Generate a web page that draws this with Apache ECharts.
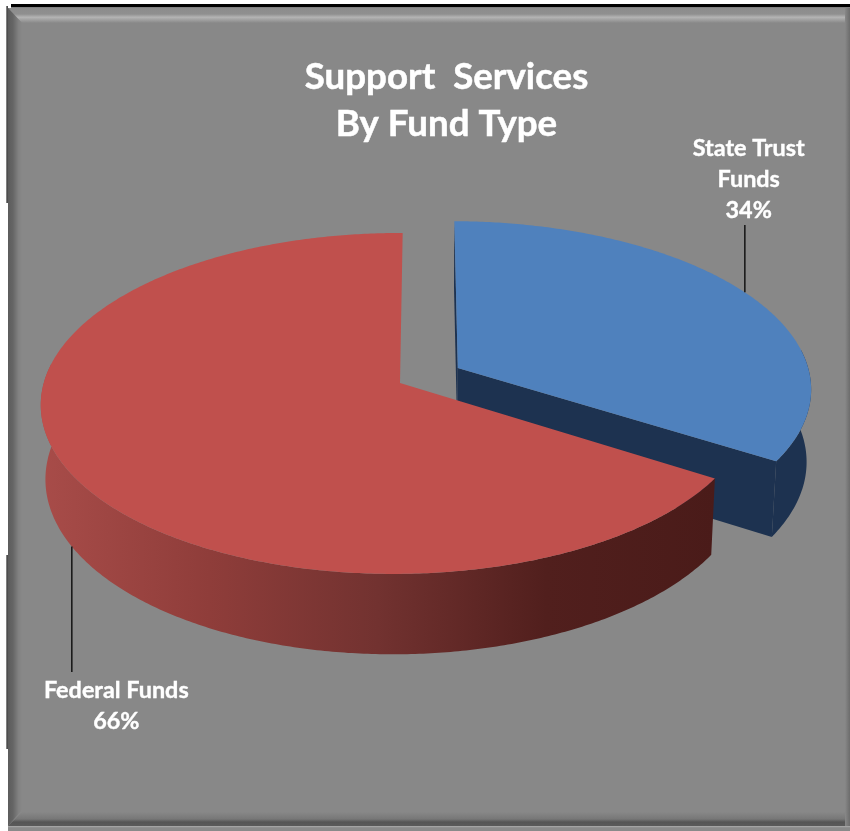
<!DOCTYPE html>
<html>
<head>
<meta charset="utf-8">
<style>html,body{margin:0;padding:0;background:#fff}#chart{width:850px;height:831px}</style>
<script src="https://cdn.jsdelivr.net/npm/echarts@6/dist/echarts.min.js"></script>
</head>
<body>
<div id="chart"></div>
<script>
// Funding split, in percent
const fundNames = ['State Trust Funds', 'Federal Funds'];
const fundShares = [34, 66];
const labelLines = [['State Trust', 'Funds'], ['Federal Funds']];

// Appearance of each slice
const topColors = ['#4f81bd', '#c0504d'];
const sideStops = [
  [[0, '#1d3250'], [1, '#1d3250']],
  [[0, '#a84c49'], [0.25, '#8f3d3a'], [0.5, '#723230'], [0.75, '#511f1d'], [1, '#4a1b19']]
];
const explode = [0.188, 0];
const widen = [1.013, 1];
const leaderAnchor = [0.495, 0.5];

// Tilted disc: a world point (x, y, depth 0..1) mapped to the screen with mild perspective
const disc = { cx: 400, cy: 383, vx: 425, rx: 353.2, ry: 168, height: 74,
  perspY: 0.12, perspX: 0.008, depthPersp: 0.012 };
function project(x, y, depth) {
  const d = 1 + disc.perspY * y + disc.perspX * x + disc.depthPersp * depth;
  return [disc.vx + (disc.rx * x + disc.cx - disc.vx) / d,
          disc.cy - disc.ry * y / d + disc.height * depth / d];
}

const total = fundShares.reduce((a, b) => a + b, 0);

function renderSlice(params, api) {
  const i = params.dataIndex;
  const before = fundShares.slice(0, i).reduce((a, b) => a + b, 0);
  const start = Math.PI / 2 - 2 * Math.PI * before / total;
  const sweep = 2 * Math.PI * api.value(0) / total;
  const end = start - sweep;
  const mid = (start + end) / 2;
  const ox = explode[i] * Math.cos(mid);
  const oy = explode[i] * Math.sin(mid);
  const rimPoint = (a, depth) => project(ox + widen[i] * Math.cos(a), oy + Math.sin(a), depth);
  const apex = depth => project(ox, oy, depth);

  const steps = Math.round(sweep / 0.01);
  const topPath = [apex(0)];
  const rimTop = [];
  const rimBottom = [];
  for (let k = 0; k <= steps; k++) {
    const a = start - sweep * k / steps;
    topPath.push(rimPoint(a, 0));
    if (Math.sin(a) < 0.12) {
      rimTop.push(rimPoint(a, 0));
      rimBottom.push(rimPoint(a, 1));
    }
  }
  const sideFill = { type: 'linear', x: 0, y: 0, x2: 1, y2: 0,
    colorStops: sideStops[i].map(s => ({ offset: s[0], color: s[1] })) };
  const flatSide = sideStops[i][sideStops[i].length - 1][1];

  const children = [];
  // Only a slice pulled out of the disc shows its cut faces
  if (explode[i] > 0) {
    const faceStyle = { fill: flatSide };
    children.push(
      { type: 'polygon', shape: { points: [apex(0), rimPoint(start, 0), rimPoint(start, 1), apex(1)] }, style: faceStyle },
      { type: 'polygon', shape: { points: [apex(0), rimPoint(end, 0), rimPoint(end, 1), apex(1)] }, style: faceStyle }
    );
  }
  children.push(
    { type: 'polygon', shape: { points: rimTop.concat(rimBottom.reverse()) }, style: { fill: sideFill } },
    { type: 'polygon', shape: { points: topPath }, style: { fill: topColors[i] } }
  );

  // Leader from the rim to the data label
  const anchorAngle = start - sweep * leaderAnchor[i];
  const state = i === 0;
  const anchor = rimPoint(anchorAngle, state ? 0 : 1);
  const leaderEnd = state ? 225 : 672;
  children.push({ type: 'line',
    shape: { x1: anchor[0], y1: anchor[1], x2: anchor[0], y2: leaderEnd },
    style: { stroke: '#0b0b0b', lineWidth: 1.4 } });

  const text = labelLines[i].concat(api.value(0) + '%').join('\n');
  children.push({ type: 'text',
    x: state ? 748.7 : 116.3,
    y: state ? 133.5 : 675,
    style: { text: text, fill: '#ffffff', font: 'bold 23.4px Lato', lineHeight: 30.7,
      stroke: '#ffffff', lineWidth: 0.4, align: 'center', verticalAlign: 'top' } });
  return { type: 'group', children: children };
}

// Card face, bevelled edges and the black offset frame segments
const W = 850, H = 831;
const grad = (x, y, x2, y2, stops) => ({ type: 'linear', x, y, x2, y2,
  colorStops: stops.map(s => ({ offset: s[0], color: s[1] })) });
const frame = [
  { type: 'rect', shape: { x: 8, y: 8, width: W - 8, height: H - 8 }, style: { fill: '#888888' } },
  { type: 'polygon', shape: { points: [[8, 8], [W, 8], [W, 23], [22, 23]] },
    style: { fill: grad(0, 0, 0, 1, [[0, '#8c8c8c'], [0.4, '#8f8f8f'], [0.62, '#b4b4b4'], [1, '#888888']]) } },
  { type: 'polygon', shape: { points: [[8, 8], [22, 23], [22, 810], [8, 826]] },
    style: { fill: grad(0, 0, 1, 0, [[0, '#5c5c5c'], [0.35, '#656565'], [0.75, '#818181'], [1, '#888888']]) } },
  { type: 'polygon', shape: { points: [[8, 826], [22, 812], [W, 812], [W, 826]] },
    style: { fill: grad(0, 0, 0, 1, [[0, '#888888'], [0.5, '#777777'], [0.72, '#555555'], [1, '#5a5a5a']]) } },
  { type: 'rect', shape: { x: 8, y: 826, width: W - 8, height: 1.5 }, style: { fill: '#a4a4a4' } },
  { type: 'rect', shape: { x: 8, y: 827.5, width: W - 8, height: 3.5 }, style: { fill: '#8a8a8a' } },
  { type: 'rect', shape: { x: 845, y: 8, width: 5, height: 818 },
    style: { fill: grad(0, 0, 1, 0, [[0, '#888888'], [1, '#6c6c6c']]) } },
  { type: 'rect', shape: { x: 11, y: 4, width: W - 11, height: 3.5 }, style: { fill: '#000000' } },
  { type: 'rect', shape: { x: 6.5, y: 6, width: 1.2, height: 197 }, style: { fill: '#000000' } },
  { type: 'rect', shape: { x: 6.5, y: 555, width: 1.2, height: 194 }, style: { fill: '#000000' } }
].map(e => Object.assign({ silent: true, z: -1 }, e));

const chart = echarts.init(document.getElementById('chart'), null, { renderer: 'canvas' });
chart.setOption({
  animation: false,
  backgroundColor: '#ffffff',
  title: {
    text: 'Support  Services\nBy Fund Type',
    left: 441.5,
    top: 49,
    textAlign: 'center',
    textStyle: { color: '#ffffff', fontFamily: 'Lato', fontWeight: 'bold', fontSize: 36.7, lineHeight: 47,
      textBorderColor: '#ffffff', textBorderWidth: 0.5 }
  },
  graphic: frame,
  series: [{
    type: 'custom',
    coordinateSystem: 'none',
    renderItem: renderSlice,
    silent: true,
    clip: false,
    data: fundNames.map((name, i) => ({ name, value: [fundShares[i]] }))
  }]
});
</script>
</body>
</html>
